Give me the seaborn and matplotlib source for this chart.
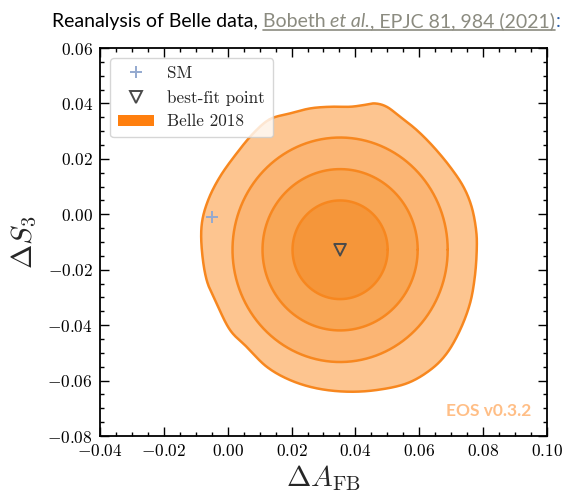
import numpy as np
import matplotlib
matplotlib.use("Agg")
import matplotlib.pyplot as plt
from matplotlib.lines import Line2D
from matplotlib.patches import Patch
import seaborn as sns

# ---- data -------------------------------------------------------------
# best-fit point and Standard Model prediction
best_fit = {"dAFB": [0.0352], "dS3": [-0.0128]}
sm_point = {"dAFB": [-0.0050], "dS3": [-0.0009]}

# inner credible regions: semi-axes (dAFB, dS3) around the best-fit point
inner_semi_x = [0.0149, 0.0243, 0.0337]
inner_semi_y = [0.0178, 0.0291, 0.0405]

# outermost credible region boundary (closed curve)
outer_x = [0.0132, 0.0195, 0.0258, 0.0320, 0.0383, 0.0425, 0.0461, 0.0498,
           0.0540, 0.0592, 0.0644, 0.0696, 0.0738, 0.0764, 0.0778, 0.0780,
           0.0774, 0.0759, 0.0728, 0.0686, 0.0634, 0.0561, 0.0467, 0.0373,
           0.0279, 0.0195, 0.0122, 0.0059, 0.0007, -0.0035, -0.0066, -0.0081,
           -0.0081, -0.0061, -0.0024, 0.0028, 0.0080]
outer_y = [0.0343, 0.0364, 0.0382, 0.0388, 0.0388, 0.0394, 0.0400, 0.0388,
           0.0352, 0.0304, 0.0244, 0.0172, 0.0100, 0.0027, -0.0057, -0.0129,
           -0.0225, -0.0321, -0.0417, -0.0502, -0.0562, -0.0610, -0.0634, -0.0640,
           -0.0628, -0.0598, -0.0550, -0.0478, -0.0417, -0.0321, -0.0237, -0.0129,
           -0.0033, 0.0052, 0.0136, 0.0220, 0.0292]

x_ticks = [-0.04, -0.02, 0.00, 0.02, 0.04, 0.06, 0.08, 0.10]
y_ticks = [-0.08, -0.06, -0.04, -0.02, 0.00, 0.02, 0.04, 0.06]

ORANGE = "#ff7f0e"
LINE = "#f7871f"
# fill colours from the outermost to the innermost region
FILLS = ["#fdc590", "#fbb574", "#f8a655", "#f5963a"]


def closed_spline(xs, ys, n=30):
    """Closed Catmull-Rom spline through the given points."""
    p = np.column_stack([xs, ys])
    m = len(p)
    out = []
    t = np.linspace(0, 1, n, endpoint=False)[:, None]
    for i in range(m):
        p0, p1, p2, p3 = p[i - 1], p[i], p[(i + 1) % m], p[(i + 2) % m]
        seg = 0.5 * ((2 * p1) + (-p0 + p2) * t
                     + (2 * p0 - 5 * p1 + 4 * p2 - p3) * t ** 2
                     + (-p0 + 3 * p1 - 3 * p2 + p3) * t ** 3)
        out.append(seg)
    out = np.vstack(out)
    return np.append(out[:, 0], out[0, 0]), np.append(out[:, 1], out[0, 1])


# ---- style ------------------------------------------------------------
sns.set_theme(style="ticks")
plt.rcParams.update({
    "font.family": "serif",
    "font.serif": ["cmr10"],
    "mathtext.fontset": "cm",
    "axes.formatter.use_mathtext": True,
    "axes.unicode_minus": True,
    "xtick.direction": "in",
    "ytick.direction": "in",
    "xtick.top": True,
    "ytick.right": True,
    "xtick.major.size": 6.5,
    "ytick.major.size": 6.5,
    "xtick.minor.size": 3.2,
    "ytick.minor.size": 3.2,
    "xtick.major.width": 1.0,
    "ytick.major.width": 1.0,
    "axes.linewidth": 1.3,
    "axes.edgecolor": "black",
    "xtick.color": "black",
    "ytick.color": "black",
})

fig = plt.figure(figsize=(5.66, 4.97), dpi=100)
ax = fig.add_axes([0.1767, 0.1227, 0.7897, 0.7807])

# ---- credible regions -------------------------------------------------
cx, cy = best_fit["dAFB"][0], best_fit["dS3"][0]
ox, oy = closed_spline(outer_x, outer_y)
ax.fill(ox, oy, color=FILLS[0], lw=0, zorder=1)
ax.plot(ox, oy, color=LINE, lw=1.8, zorder=2)

phi = np.linspace(0, 2 * np.pi, 400)
for k, (sx, sy) in enumerate(zip(inner_semi_x[::-1], inner_semi_y[::-1])):
    ex = cx + sx * np.cos(phi)
    ey = cy + sy * np.sin(phi)
    ax.fill(ex, ey, color=FILLS[k + 1], lw=0, zorder=1)
    ax.plot(ex, ey, color=LINE, lw=1.8, zorder=2)

# ---- points -----------------------------------------------------------
sns.scatterplot(x=sm_point["dAFB"], y=sm_point["dS3"], marker="+", s=70,
                color="#94a9cf", linewidth=1.4, ax=ax, zorder=4)
sns.scatterplot(x=best_fit["dAFB"], y=best_fit["dS3"], marker="v", s=70,
                facecolor="none", edgecolor="#4a4a4a", linewidth=1.4,
                ax=ax, zorder=4)

# ---- axes -------------------------------------------------------------
ax.set_xlim(x_ticks[0], x_ticks[-1])
ax.set_ylim(y_ticks[0], y_ticks[-1])
ax.set_xticks(x_ticks)
ax.set_yticks(y_ticks)
ax.set_xticklabels([f"${v:.2f}$" for v in x_ticks])
ax.set_yticklabels([f"${v:.2f}$" for v in y_ticks])
ax.xaxis.set_minor_locator(matplotlib.ticker.MultipleLocator(0.005))
ax.yaxis.set_minor_locator(matplotlib.ticker.MultipleLocator(0.005))
ax.tick_params(axis="both", which="major", labelsize=12.5, pad=5)
ax.set_xlabel(r"$\Delta A_{\rm FB}$", fontsize=21, labelpad=3)
ax.set_ylabel(r"$\Delta S_3$", fontsize=21, labelpad=6)

# ---- legend -----------------------------------------------------------
handles = [
    Line2D([], [], ls="none", marker="+", ms=9, mew=1.4, color="#94a9cf"),
    Line2D([], [], ls="none", marker="v", ms=8, mew=1.4, mfc="none",
           mec="#4a4a4a"),
    Patch(facecolor=ORANGE, edgecolor="none"),
]
leg = ax.legend(handles, ["SM", "best-fit point", "Belle 2018"],
                loc="upper left", fontsize=12.3, frameon=True, fancybox=True,
                borderaxespad=0.6, borderpad=0.45, handlelength=2.1,
                handletextpad=0.8, labelspacing=0.5)
leg.get_frame().set_edgecolor("#cccccc")
leg.get_frame().set_linewidth(1.0)
leg.set_zorder(5)

# ---- watermark --------------------------------------------------------
ax.text(0.965, 0.045, "EOS v0.3.2", transform=ax.transAxes, ha="right",
        va="bottom", fontsize=12.5, fontweight="bold", family="Lato",
        color=ORANGE, alpha=0.5)

# ---- heading with citation --------------------------------------------
fig.canvas.draw()
renderer = fig.canvas.get_renderer()
W, H = fig.bbox.width, fig.bbox.height
x_px = 52.0
base_px = H - 27.0
pieces = [
    ("Reanalysis of Belle data, ", "black", "normal", False),
    ("Bobeth ", "#8b8b80", "normal", True),
    ("et al.", "#8b8b80", "italic", True),
    (", EPJC 81, 984 (2021)", "#8b8b80", "normal", True),
    (":", "#2a5ea8", "normal", False),
]
ul_start = ul_end = None
for txt, col, style, underline in pieces:
    t = fig.text(x_px / W, base_px / H, txt, color=col, style=style,
                 family="Lato", fontsize=14.0, va="baseline", ha="left")
    bb = t.get_window_extent(renderer)
    if underline:
        if ul_start is None:
            ul_start = x_px
        ul_end = bb.x1
    x_px = bb.x1
if ul_start is not None:
    fig.add_artist(Line2D([ul_start / W, ul_end / W],
                          [(base_px - 3) / H, (base_px - 3) / H],
                          color="#8b8b80", lw=1.2))

fig.savefig("out.png", dpi=100)
